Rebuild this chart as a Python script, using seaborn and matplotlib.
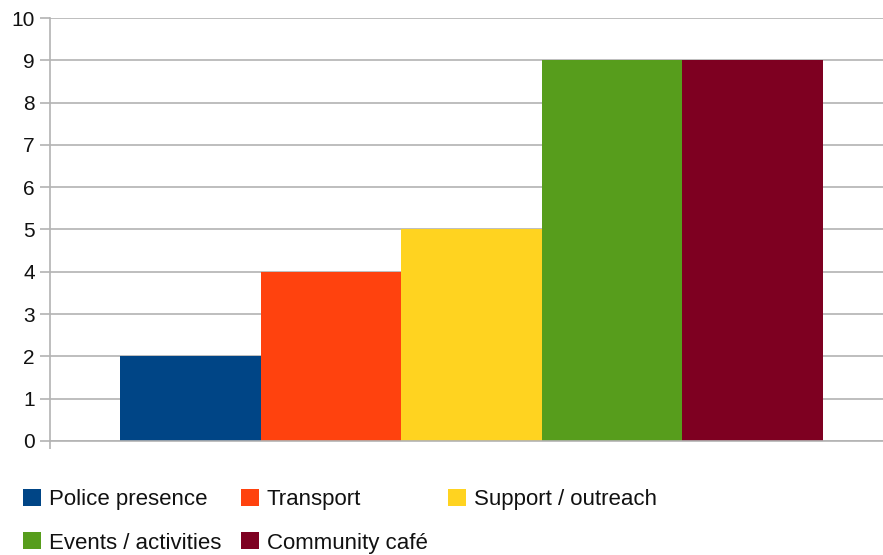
import matplotlib
matplotlib.use("Agg")
import matplotlib.pyplot as plt
from matplotlib.patches import Patch
import seaborn as sns

# Data
categories = ["Police presence", "Transport", "Support / outreach",
              "Events / activities", "Community café"]
values = [2, 4, 5, 9, 9]
colors = ["#004586", "#ff420e", "#ffd320", "#579d1c", "#7e0021"]
y_ticks = list(range(0, 11))

sns.set_style("white")
plt.rcParams["font.family"] = ["Liberation Sans Narrow", "Liberation Sans", "DejaVu Sans"]

fig = plt.figure(figsize=(8.83, 5.55), dpi=100)
ax = fig.add_axes([50 / 883, 114 / 555, 833 / 883, 423 / 555])

sns.barplot(x=categories, y=values, hue=categories, palette=colors,
            width=1.0, dodge=False, legend=False, saturation=1, ax=ax,
            linewidth=0)

ax.set_ylim(0, 10)
ax.set_xlim(-1.0, 4.93)
ax.set_yticks(y_ticks)
ax.yaxis.grid(True, color="#b3b3b3", linewidth=1.2)
ax.set_axisbelow(True)
ax.set_xticks([-1.0])
ax.set_xticklabels([""])
ax.tick_params(axis="x", length=6, width=1.2, color="#b3b3b3", direction="out", bottom=True)
ax.tick_params(axis="y", length=7, width=1.2, color="#b3b3b3", direction="out",
               left=True, labelsize=15, pad=4, labelcolor="#111111")
ax.set_xlabel("")
ax.set_ylabel("")
for side in ["top", "right"]:
    ax.spines[side].set_visible(False)
for side in ["left", "bottom"]:
    ax.spines[side].set_color("#b3b3b3")
    ax.spines[side].set_linewidth(1.2)

# legend: row-wise order in 3 columns
order = [0, 3, 1, 4, 2]
handles = [Patch(facecolor=colors[i], edgecolor="none") for i in order]
labels = [categories[i] for i in order]
fig.legend(handles, labels, ncol=3, loc="upper left",
           bbox_to_anchor=(23 / 883, 1 - 489 / 555), frameon=False,
           fontsize=16, handlelength=0.8, handleheight=0.8,
           handletextpad=0.36, columnspacing=0.9, labelspacing=1.0,
           borderaxespad=0, borderpad=0, labelcolor="#111111")

fig.savefig("out.png", dpi=100)
